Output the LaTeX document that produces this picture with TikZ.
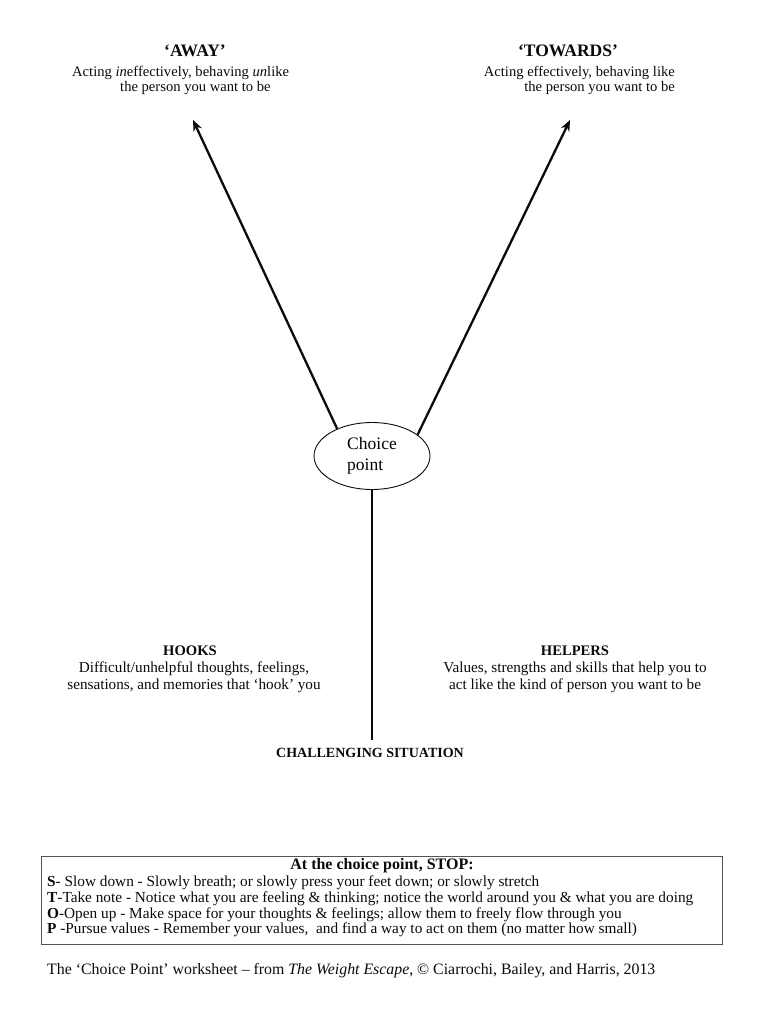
\documentclass[tikz,border=0pt]{standalone}
\usepackage{fontspec}
\setmainfont{Liberation Serif}
\newfontfamily\boxfont{Liberation Serif}
\usepackage{tikz}
\usetikzlibrary{shapes.geometric, arrows.meta, positioning, calc}
\definecolor{inkblack}{RGB}{10,10,10}
\definecolor{framegray}{RGB}{85,85,85}
\tikzset{
  choice/.style={ellipse, draw=inkblack, line width=0.9pt, minimum width=116pt,
    minimum height=67pt, font=\fontsize{17.5}{20.5}\selectfont, align=left, inner sep=0pt},
  head/.style={font=\fontsize{17.5}{19}\selectfont\bfseries, text=inkblack, inner sep=0pt},
  subhead/.style={font=\fontsize{14.6}{16}\selectfont\bfseries, text=inkblack, inner sep=0pt},
  desc/.style={font=\fontsize{14.6}{15.5}\selectfont, text=inkblack, inner sep=0pt},
  sidedesc/.style={font=\fontsize{15.2}{17}\selectfont, text=inkblack, inner sep=0pt, align=center},
  arrow/.style={-{Stealth[length=11pt,width=9pt]}, line width=2.3pt, inkblack},
  stem/.style={line width=2.3pt, inkblack},
  stopbox/.style={rectangle, draw=framegray, line width=1pt, minimum width=681pt,
    minimum height=88pt, inner sep=0pt},
  stopline/.style={font=\boxfont\fontsize{15.3}{15.6}\selectfont, text=inkblack,
    align=left, inner sep=0pt},
  foot/.style={font=\fontsize{15.85}{17}\selectfont, text=inkblack, inner sep=0pt}
}

\begin{document}
\begin{tikzpicture}[x=1pt, y=-1pt]
  \useasboundingbox (0,0) rectangle (768,1024);
  % choice point and its branches
  \node[choice] (cp) at (372,456) {Choice\\point};
  \coordinate (awaytip) at (193,120);
  \coordinate (towardstip) at (570,120);
  \coordinate (stembase) at (372,740);
  \draw[arrow] (cp.142) -- (awaytip);
  \draw[arrow] (cp.25) -- (towardstip);
  \draw[stem] (cp.south) -- (stembase);
  % top labels
  \node[head] (away) at (195,51) {‘AWAY’};
  \node[desc, align=left, anchor=north west] (awaytxt) at (72,66)
    {Acting \textit{in}effectively, behaving \textit{un}like\\\hspace*{48pt}the person you want to be};
  \node[head] (towards) at (568,51) {‘TOWARDS’};
  \node[desc, align=right, anchor=north east] (towardstxt) at (675,66)
    {Acting effectively, behaving like\\the person you want to be};
  % side labels
  \node[subhead] (hooks) at (190,651) {HOOKS};
  \node[sidedesc, anchor=north] (hookstxt) at (194,662)
    {Difficult/unhelpful thoughts, feelings,\\sensations, and memories that ‘hook’ you};
  \node[subhead] (helpers) at (575,651) {HELPERS};
  \node[sidedesc, anchor=north] (helperstxt) at (575,662)
    {Values, strengths and skills that help you to\\act like the kind of person you want to be};
  \node[subhead, font=\fontsize{14}{15}\selectfont\bfseries] (situation) at (370,753) {CHALLENGING SITUATION};
  % STOP box
  \node[stopbox, anchor=north west] (stop) at (41,856) {};
  \node[stopline, font=\boxfont\fontsize{16}{17}\selectfont\bfseries] (stoptitle) at (382,866) {At the choice point, STOP:};
  \node[stopline, anchor=north west] (stoptxt) at (47,876)
    {\textbf{S}- Slow down - Slowly breath; or slowly press your feet down; or slowly stretch\\
     \textbf{T}-Take note - Notice what you are feeling \& thinking; notice the world around you \& what you are doing\\
     \textbf{O}-Open up - Make space for your thoughts \& feelings; allow them to freely flow through you\\
     \textbf{P} -Pursue values - Remember your values,\ \ and find a way to act on them (no matter how small)};
  % footer
  \node[foot, anchor=west] (footer) at (47,971)
    {The ‘Choice Point’ worksheet – from \textit{The Weight Escape}, © Ciarrochi, Bailey, and Harris, 2013};
\end{tikzpicture}
\end{document}
